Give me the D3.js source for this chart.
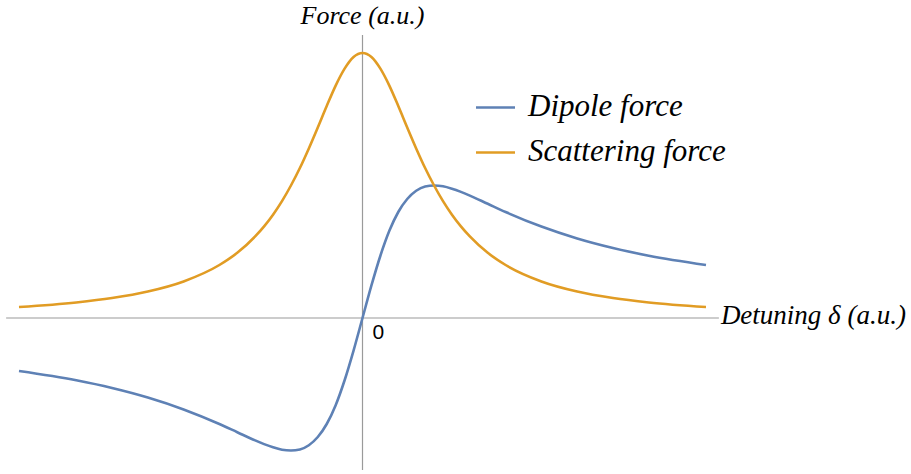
<!DOCTYPE html>
<html>
<head>
<meta charset="utf-8">
<script src="https://cdn.jsdelivr.net/npm/d3@7"></script>
<style>
  html, body { margin: 0; padding: 0; background: #fff; }
  svg { display: block; }
</style>
</head>
<body>
<svg id="chart" width="911" height="474"></svg>
<script>
// Detuning samples (a.u.)
const detuning = [-4.8, -4, -3.5, -3, -2.5, -2, -1.75, -1.5, -1.375, -1.25, -1.125, -1, -0.875, -0.75, -0.625, -0.5, -0.375, -0.25, -0.125,
                  0, 0.125, 0.25, 0.375, 0.5, 0.625, 0.75, 0.875, 1, 1.125, 1.25, 1.375, 1.5, 1.75, 2, 2.5, 3, 3.5, 4, 4.8];
// Dispersive (dipole) force
const dipoleForce = [-0.2, -0.235, -0.264, -0.3, -0.345, -0.4, -0.431, -0.462, -0.476, -0.488, -0.497, -0.5, -0.496, -0.48, -0.449, -0.4, -0.329, -0.235, -0.123,
                     0, 0.123, 0.235, 0.329, 0.4, 0.449, 0.48, 0.496, 0.5, 0.497, 0.488, 0.476, 0.462, 0.431, 0.4, 0.345, 0.3, 0.264, 0.235, 0.2];
// Absorptive (scattering) force
const scatteringForce = [0.0416, 0.0588, 0.0755, 0.1, 0.138, 0.2, 0.246, 0.308, 0.346, 0.39, 0.441, 0.5, 0.566, 0.64, 0.719, 0.8, 0.877, 0.941, 0.985,
                         1, 0.985, 0.941, 0.877, 0.8, 0.719, 0.64, 0.566, 0.5, 0.441, 0.39, 0.346, 0.308, 0.246, 0.2, 0.138, 0.1, 0.0755, 0.0588, 0.0416];
const seriesNames = ["Dipole force", "Scattering force"];
const seriesColors = ["#5E81B5", "#E19C24"];
const xTickValues = [0];

const svg = d3.select("#chart");

const x = d3.scaleLinear().domain([-4.8, 4.8]).range([19, 706]);
const y = d3.scaleLinear().domain([0, 1]).range([318, 53]);

const axisColor = "#9a9a9a";
const serif = '"Liberation Serif"';
const sans = '"Liberation Sans"';

// Horizontal axis spans slightly beyond the data
svg.append("line")
  .attr("x1", x(-4.98)).attr("x2", x(4.98))
  .attr("y1", y(0)).attr("y2", y(0))
  .attr("stroke", axisColor).attr("stroke-width", 1.2);

// Vertical axis
svg.append("line")
  .attr("x1", x(0)).attr("x2", x(0))
  .attr("y1", y(1.068)).attr("y2", y(-0.574))
  .attr("stroke", axisColor).attr("stroke-width", 1.2);

// Tick label
svg.selectAll("text.tick")
  .data(xTickValues)
  .join("text")
  .attr("class", "tick")
  .attr("x", d => x(d) + 10)
  .attr("y", y(0) + 21)
  .style("font-family", sans)
  .style("font-size", "21px")
  .attr("fill", "#000")
  .text(d => d);

const line = d3.line()
  .x((d, i) => x(detuning[i]))
  .y(d => y(d))
  .curve(d3.curveMonotoneX);

[dipoleForce, scatteringForce].forEach((vals, k) => {
  svg.append("path")
    .datum(vals)
    .attr("d", line)
    .attr("fill", "none")
    .attr("stroke", seriesColors[k])
    .attr("stroke-width", 2.6)
    .attr("stroke-linejoin", "round");
});

// Axis labels
svg.append("text")
  .attr("x", x(0))
  .attr("y", 24)
  .attr("text-anchor", "middle")
  .style("font-family", serif)
  .style("font-style", "italic")
  .style("font-size", "26px")
  .text("Force (a.u.)");

svg.append("text")
  .attr("x", x(4.98) + 2)
  .attr("y", y(0) + 6)
  .style("font-family", serif)
  .style("font-style", "italic")
  .style("font-size", "27px")
  .text("Detuning δ (a.u.)");

// Legend
const legend = svg.append("g").attr("transform", "translate(476,0)");
seriesNames.forEach((name, i) => {
  const cy = 107.5 + i * 45;
  legend.append("line")
    .attr("x1", 0).attr("x2", 39)
    .attr("y1", cy).attr("y2", cy)
    .attr("stroke", seriesColors[i]).attr("stroke-width", 2.6);
  legend.append("text")
    .attr("x", 52)
    .attr("y", cy + 8)
    .style("font-family", serif)
    .style("font-style", "italic")
    .style("font-size", "31px")
    .text(name);
});
</script>
</body>
</html>
